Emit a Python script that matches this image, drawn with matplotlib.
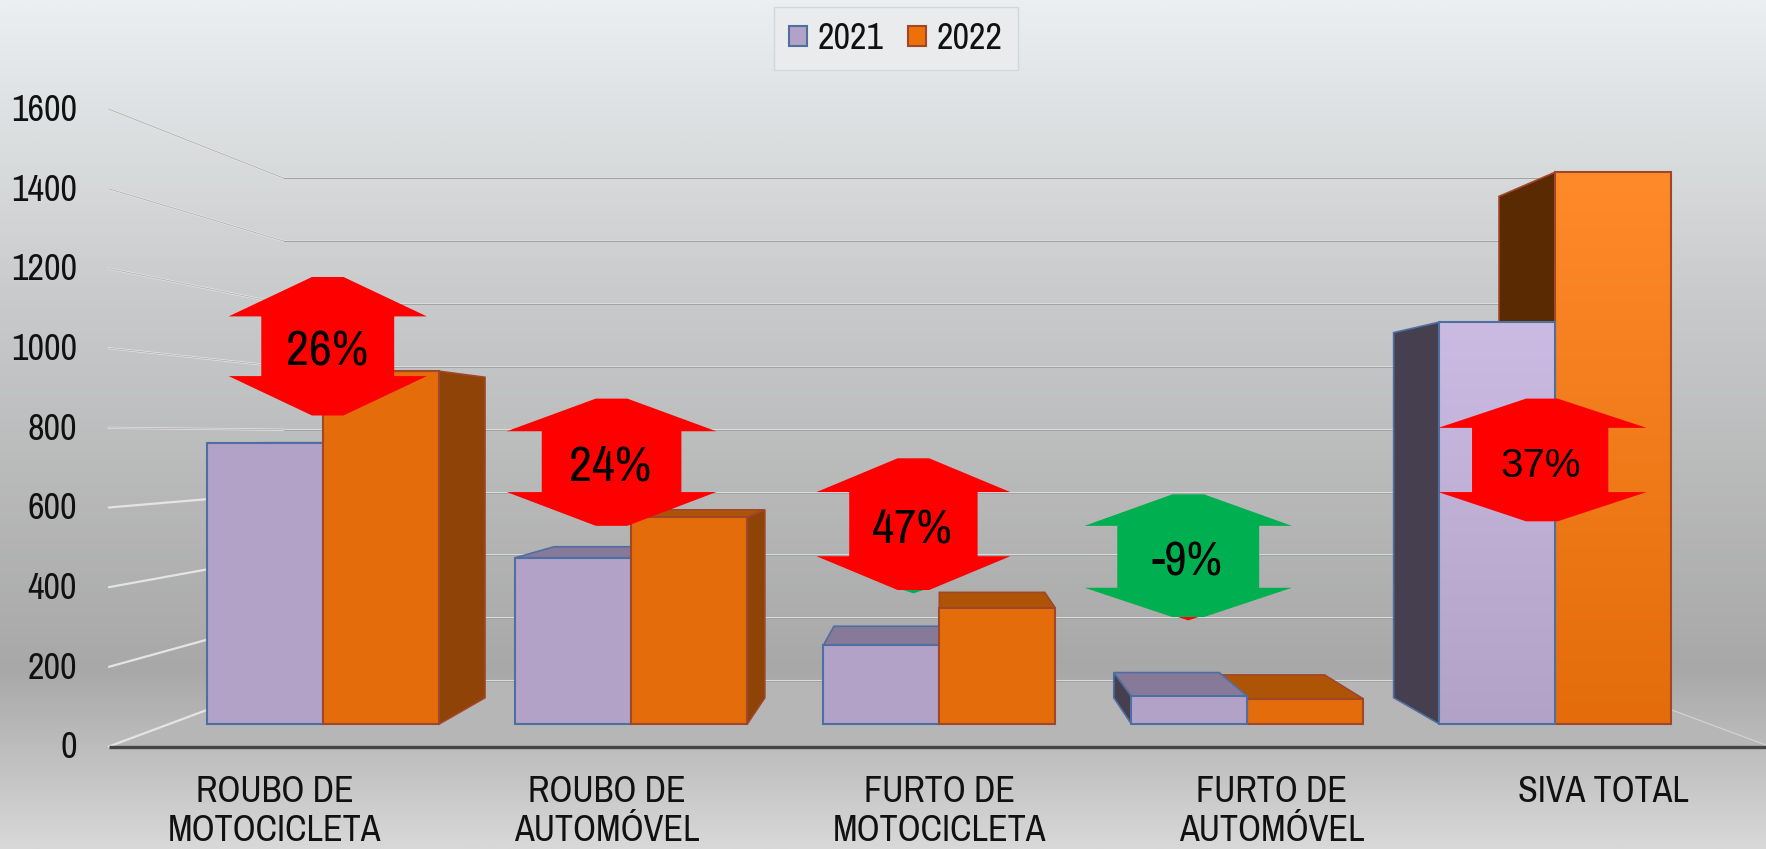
import numpy as np
import matplotlib
matplotlib.use('Agg')
import matplotlib.pyplot as plt
from matplotlib.patches import Patch
from matplotlib.colors import LinearSegmentedColormap
from matplotlib.transforms import Affine2D

# Values
categories = ['ROUBO DE\nMOTOCICLETA', 'ROUBO DE\nAUTOMÓVEL', 'FURTO DE\nMOTOCICLETA',
              'FURTO DE\nAUTOMÓVEL', 'SIVA TOTAL']
values_2021 = [760, 450, 213, 75, 1088]
values_2022 = [955, 560, 314, 68, 1494]
y_ticks = [0, 200, 400, 600, 800, 1000, 1200, 1400, 1600]
pct_labels = ['26%', '24%', '47%', '-9%', '37%']

NARROW = ['Archivo Narrow', 'Liberation Sans']
WIDE = ['Liberation Sans']

# Fake 3D set up: data coords are the front plane of the bars
VP_X, VP_V = 2.0, 777      # vanishing point
BAR_W = 0.3766
BAR_DEPTH = 0.0915
T_FRAME = -0.0784          # plane of the axis line and tick labels
T_WALL = 0.149             # back wall
FLOOR_L, FLOOR_R = -0.5, 4.5


def proj(x, v, t):
    """Move a front plane point towards the vanishing point."""
    return x + t * (VP_X - x), v + t * (VP_V - v)


fig = plt.figure(figsize=(17.66, 8.49), dpi=100)
ax = fig.add_axes([0, 0, 1, 1])
xlim = (-1.0494, 4.6837)
ylim = (-338.4, 1960)

# Background gradient
bg_cmap = LinearSegmentedColormap.from_list('bg', [
    (0.0, '#ebeff1'), (0.35, '#c9cacb'), (0.79, '#a8a8a8'), (0.88, '#bcbcbc'), (1.0, '#d8d8d8')])
ax.imshow(np.linspace(0, 1, 400).reshape(-1, 1), extent=[xlim[0], xlim[1], ylim[0], ylim[1]],
          origin='upper', aspect='auto', cmap=bg_cmap, zorder=0)

# Floor
floor_x = [proj(FLOOR_L, 0, T_FRAME)[0], proj(FLOOR_L, 0, T_WALL)[0], proj(FLOOR_R, 0, T_WALL)[0], proj(FLOOR_R, 0, T_FRAME)[0]]
floor_y = [proj(FLOOR_L, 0, T_FRAME)[1], proj(FLOOR_L, 0, T_WALL)[1], proj(FLOOR_R, 0, T_WALL)[1], proj(FLOOR_R, 0, T_FRAME)[1]]
ax.fill(floor_x, floor_y, color='#b6b6b6', lw=0, zorder=1)
ax.plot([proj(FLOOR_R, 0, T_FRAME)[0], proj(FLOOR_R, 0, T_WALL)[0]],
        [proj(FLOOR_R, 0, T_FRAME)[1], proj(FLOOR_R, 0, T_WALL)[1]], color='#d4d4d4', lw=0.8, zorder=1.5)

# Grid on the back wall and the left side
for v in y_ticks:
    x0, y0 = proj(FLOOR_L, v, T_FRAME)
    x1, y1 = proj(FLOOR_L, v, T_WALL)
    x2, y2 = proj(FLOOR_R, v, T_WALL)
    ax.plot([x0, x1], [y0, y1], color='#e4e4e4', lw=1.6, zorder=2, solid_capstyle='round')
    if v >= 800:
        ax.plot([x0, x1], [y0, y1], color='#a9a9a9', lw=0.5, zorder=2.1)
    ax.plot([x1, x2], [y1, y2], color='#dcdcdc', lw=1.4, zorder=2)
    ax.plot([x1, x2], [y1, y2], color='#a2a2a2', lw=0.7, zorder=2.1)

# Colours per series
style_2021 = {'front': '#b3a2c7', 'edge': '#4f6fa3', 'top': '#867a98', 'side': '#463f4f'}
style_2022 = {'front': '#e46c0a', 'edge': '#a0472a', 'top': '#ae5406', 'side_r': '#8f4306', 'side_l': '#5a2a02'}


def draw_bar(x0, v, st, z, gradient=None):
    x1 = x0 + BAR_W
    # top face, only seen when below the eye level
    if v < VP_V:
        p = [proj(x0, v, 0), proj(x0, v, BAR_DEPTH), proj(x1, v, BAR_DEPTH), proj(x1, v, 0)]
        ax.fill(*zip(*p), facecolor=st['top'], edgecolor=st['edge'], lw=1.2, zorder=z)
    # side face, depends on which side of the vanishing point
    if x1 < VP_X:
        p = [proj(x1, 0, 0), proj(x1, 0, BAR_DEPTH), proj(x1, v, BAR_DEPTH), proj(x1, v, 0)]
        ax.fill(*zip(*p), facecolor=st.get('side_r', st.get('side')), edgecolor=st['edge'], lw=1.2, zorder=z)
    elif x0 > VP_X:
        p = [proj(x0, 0, 0), proj(x0, 0, BAR_DEPTH), proj(x0, v, BAR_DEPTH), proj(x0, v, 0)]
        ax.fill(*zip(*p), facecolor=st.get('side_l', st.get('side')), edgecolor=st['edge'], lw=1.2, zorder=z)
    if gradient is not None:
        ax.imshow(np.linspace(0, 1, 200).reshape(-1, 1), extent=[x0, x1, 0, v], origin='upper',
                  aspect='auto', cmap=gradient, zorder=z + 0.1)
        ax.bar(x0, v, BAR_W, align='edge', facecolor='none', edgecolor=st['edge'], lw=1.5, zorder=z + 0.2)
    else:
        ax.bar(x0, v, BAR_W, align='edge', facecolor=st['front'], edgecolor=st['edge'], lw=1.5, zorder=z + 0.2)


grad_2021 = LinearSegmentedColormap.from_list('g21', ['#cbbbe2', '#b3a2c7'])
grad_2022 = LinearSegmentedColormap.from_list('g22', ['#ff8a2a', '#e46c0a'])

for i in range(len(categories)):
    base = 10 + i * 3
    g21 = grad_2021 if i == 4 else None
    g22 = grad_2022 if i == 4 else None
    if i > 2:
        # right of the vanishing point the left bar sits in front
        draw_bar(i, values_2022[i], style_2022, base, g22)
        draw_bar(i - BAR_W, values_2021[i], style_2021, base + 1, g21)
    else:
        draw_bar(i - BAR_W, values_2021[i], style_2021, base, g21)
        draw_bar(i, values_2022[i], style_2022, base + 1, g22)

# Axis line, tick labels and category labels on the front frame
x0, y0 = proj(FLOOR_L, 0, T_FRAME)
x1, y1 = proj(FLOOR_R, 0, T_FRAME)
ax.plot([x0, x1], [y0, y1], color='#454545', lw=2.4, zorder=30, solid_capstyle='butt')

for v in y_ticks:
    ax.text(-0.80, proj(FLOOR_L, v, T_FRAME)[1] - 4, str(v), ha='right', va='center',
            fontsize=26, family=NARROW, color='#111111', zorder=31)

for i, cat in enumerate(categories):
    ax.text(proj(i, 0, T_FRAME)[0], -138, cat, ha='center', va='top', fontsize=26,
            family=NARROW, color='#111111', linespacing=1.22, zorder=31)

# Percent arrows, geometry in pixels of the 1568x754 view:
# centre x, tip top, upper wing, lower wing, tip bottom, wing left, shaft left, shaft right, wing right
px = Affine2D().scale(1 / 1568, -1 / 754).translate(0, 1) + fig.transFigure
arrows = [
    (291, 246, 281, 334, 369, 203, 232, 350, 379, '#ff0000', None, 36, NARROW),
    (543, 354, 383, 437, 467, 450, 481, 605, 636, '#ff0000', None, 36, NARROW),
    (811, 407, 437, 494, 524, 725, 754, 868, 897, '#ff0000', '#00b050', 35, NARROW),
    (1055, 439, 467, 522, 548, 963, 992, 1118, 1147, '#00b050', '#ff0000', 35, NARROW),
    (1369, 354, 380, 437, 463, 1277, 1307, 1428, 1462, '#ff0000', None, 29, WIDE),
]
for lab, (cx, top, w1, w2, bot, xl, sl, sr, xr, col, under, fs, fam) in zip(pct_labels, arrows):
    if under is not None:
        ax.fill([cx - 12, cx, cx + 12], [bot - 1, bot + 3, bot - 1], color=under, lw=0, transform=px, zorder=40)
    xs = [cx - 14, cx + 14, xr, sr, sr, xr, cx + 14, cx - 14, xl, sl, sl, xl]
    ys = [top, top, w1, w1, w2, w2, bot, bot, w2, w2, w1, w1]
    ax.fill(xs, ys, color=col, lw=0, transform=px, zorder=41)
    ax.text(cx - 1, (w1 + w2) / 2 + 5, lab, ha='center', va='center', fontsize=fs, family=fam,
            color='black', transform=px, zorder=42)

ax.set_xlim(*xlim)
ax.set_ylim(*ylim)
ax.axis('off')

# Legend
handles = [Patch(facecolor=style_2021['front'], edgecolor=style_2021['edge'], lw=1.5, label='2021'),
           Patch(facecolor='#ee7008', edgecolor=style_2022['edge'], lw=1.5, label='2022')]
leg = ax.legend(handles=handles, ncol=2, loc='center', bbox_to_anchor=(795.5 / 1568, 1 - 34 / 754),
                prop={'family': NARROW, 'size': 26}, frameon=True, fancybox=False, framealpha=1,
                facecolor='#e9ebed', edgecolor='#d3d7da', handlelength=0.5, handleheight=0.5,
                handletextpad=0.3, columnspacing=0.68, borderpad=0.42, borderaxespad=0)
leg.set_zorder(50)
for t in leg.get_texts():
    t.set_color('#111111')

fig.savefig('out.png', dpi=100)
